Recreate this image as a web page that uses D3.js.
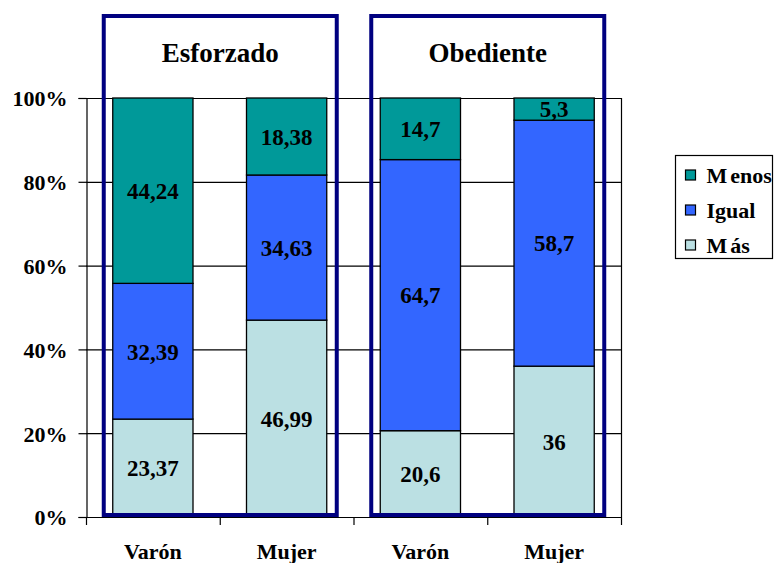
<!DOCTYPE html>
<html>
<head>
<meta charset="utf-8">
<script src="https://cdn.jsdelivr.net/npm/d3@7/dist/d3.min.js"></script>
<style>
  html, body { margin: 0; padding: 0; background: #fff; }
</style>
</head>
<body>
<svg id="chart" width="774" height="563"></svg>
<script>
// ---- data ----
const categories = ["Esforzado|Varón", "Esforzado|Mujer", "Obediente|Varón", "Obediente|Mujer"];
const categoryLabels = ["Varón", "Mujer", "Varón", "Mujer"];
const groups = ["Esforzado", "Obediente"];
const seriesNames = ["Más", "Igual", "Menos"];
const masValues = [23.37, 46.99, 20.6, 36];
const igualValues = [32.39, 34.63, 64.7, 58.7];
const menosValues = [44.24, 18.38, 14.7, 5.3];
const valueLabels = {
  "Más": ["23,37", "46,99", "20,6", "36"],
  "Igual": ["32,39", "34,63", "64,7", "58,7"],
  "Menos": ["44,24", "18,38", "14,7", "5,3"]
};
const yTicks = [0, 20, 40, 60, 80, 100];
const legendOrder = ["Menos", "Igual", "Más"];

// ---- setup ----
const FONT = "Liberation Serif";
const colors = { "Más": "#BBE0E3", "Igual": "#3366FF", "Menos": "#009999" };
const svg = d3.select("#chart");
const plot = { left: 86, right: 621, top: 98, bottom: 517 };

const x = d3.scaleBand().domain(categories).range([plot.left, plot.right]).paddingInner(0.4).paddingOuter(0.2);
const xCat = d3.scaleBand().domain(categories).range([plot.left, plot.right]).padding(0);
const y = d3.scaleLinear().domain([0, 100]).range([plot.bottom, plot.top]);

const table = categories.map((c, i) => ({ cat: c, "Más": masValues[i], "Igual": igualValues[i], "Menos": menosValues[i] }));
const stacked = d3.stack().keys(seriesNames)(table);

// gridlines
svg.append("g").selectAll("line").data(yTicks).join("line")
  .attr("x1", plot.left).attr("x2", plot.right)
  .attr("y1", d => y(d) + 0.5).attr("y2", d => y(d) + 0.5)
  .attr("stroke", "#000").attr("stroke-width", 1.2);

// plot right border
svg.append("line").attr("x1", plot.right + 0.5).attr("x2", plot.right + 0.5)
  .attr("y1", plot.top).attr("y2", plot.bottom).attr("stroke", "#000").attr("stroke-width", 1.2);

// bars
const layers = svg.append("g").selectAll("g").data(stacked).join("g")
  .attr("fill", d => colors[d.key]);
layers.selectAll("rect").data(d => d).join("rect")
  .attr("x", d => x(d.data.cat))
  .attr("width", x.bandwidth())
  .attr("y", d => y(d[1]))
  .attr("height", d => y(d[0]) - y(d[1]))
  .attr("stroke", "#000").attr("stroke-width", 1.3);

// value labels
stacked.forEach(layer => {
  svg.append("g").attr("font-family", FONT).attr("font-weight", "bold")
    .selectAll("text").data(layer).join("text")
    .attr("x", d => x(d.data.cat) + x.bandwidth() / 2)
    .attr("y", d => (y(d[0]) + y(d[1])) / 2)
    .attr("dy", "0.36em")
    .attr("text-anchor", "middle")
    .attr("font-size", 23)
    .attr("fill", "#000")
    .text((d, i) => valueLabels[layer.key][i]);
});

// y axis
const yAxis = d3.axisLeft(y).tickValues(yTicks).tickSize(8).tickPadding(11).tickFormat(d => d + "%");
const gy = svg.append("g").attr("transform", `translate(${plot.left + 0.5},0)`).call(yAxis);
gy.attr("font-family", FONT).attr("font-weight", "bold").attr("font-size", 22);
gy.select(".domain").attr("stroke", "#000").attr("stroke-width", 1.2);
gy.selectAll(".tick line").attr("stroke", "#000").attr("stroke-width", 1.2);
gy.selectAll(".tick text").attr("fill", "#000").attr("dy", "0.36em");

// x axis: ticks at category boundaries
const boundaries = categories.map(c => xCat(c)).concat([plot.right]);
svg.append("g").selectAll("line").data(boundaries).join("line")
  .attr("x1", d => d + 0.5).attr("x2", d => d + 0.5)
  .attr("y1", plot.bottom).attr("y2", plot.bottom + 8)
  .attr("stroke", "#000").attr("stroke-width", 1.2);
svg.append("g").attr("font-family", FONT).attr("font-weight", "bold")
  .selectAll("text").data(categories).join("text")
  .attr("x", d => xCat(d) + xCat.bandwidth() / 2)
  .attr("y", 559)
  .attr("text-anchor", "middle")
  .attr("font-size", 22)
  .text((d, i) => categoryLabels[i]);

// group frames
const frameData = groups.map(g => {
  const cats = categories.filter(c => c.startsWith(g + "|"));
  const x0 = x(cats[0]) - 9;
  const x1 = x(cats[cats.length - 1]) + x.bandwidth() + 10;
  return { g, x0, x1 };
});
svg.append("g").selectAll("rect").data(frameData).join("rect")
  .attr("x", d => d.x0).attr("y", 16)
  .attr("width", d => d.x1 - d.x0).attr("height", y(0) - 2 - 16)
  .attr("fill", "none").attr("stroke", "#000080").attr("stroke-width", 4);
svg.append("g").attr("font-family", FONT).attr("font-weight", "bold")
  .selectAll("text").data(frameData).join("text")
  .attr("x", d => (d.x0 + d.x1) / 2)
  .attr("y", 62)
  .attr("text-anchor", "middle")
  .attr("font-size", 27)
  .text(d => d.g);

// legend
const lg = svg.append("g").attr("transform", "translate(675.5,155.5)")
  .attr("font-family", FONT).attr("font-weight", "bold");
lg.append("rect").attr("width", 97).attr("height", 103).attr("fill", "#fff").attr("stroke", "#000").attr("stroke-width", 1.2);
const items = lg.selectAll("g").data(legendOrder).join("g")
  .attr("transform", (d, i) => `translate(0,${27.5 + i * 35})`);
items.append("rect").attr("x", 10).attr("y", -13).attr("width", 10).attr("height", 10)
  .attr("fill", d => colors[d]).attr("stroke", "#000").attr("stroke-width", 1.2);
const lt = items.append("text").attr("x", 31).attr("font-size", 22);
lt.append("tspan").text(d => d.charAt(0));
lt.append("tspan").attr("dx", d => d.charAt(0) === "M" ? 3 : 0).text(d => d.slice(1));
</script>
</body>
</html>
